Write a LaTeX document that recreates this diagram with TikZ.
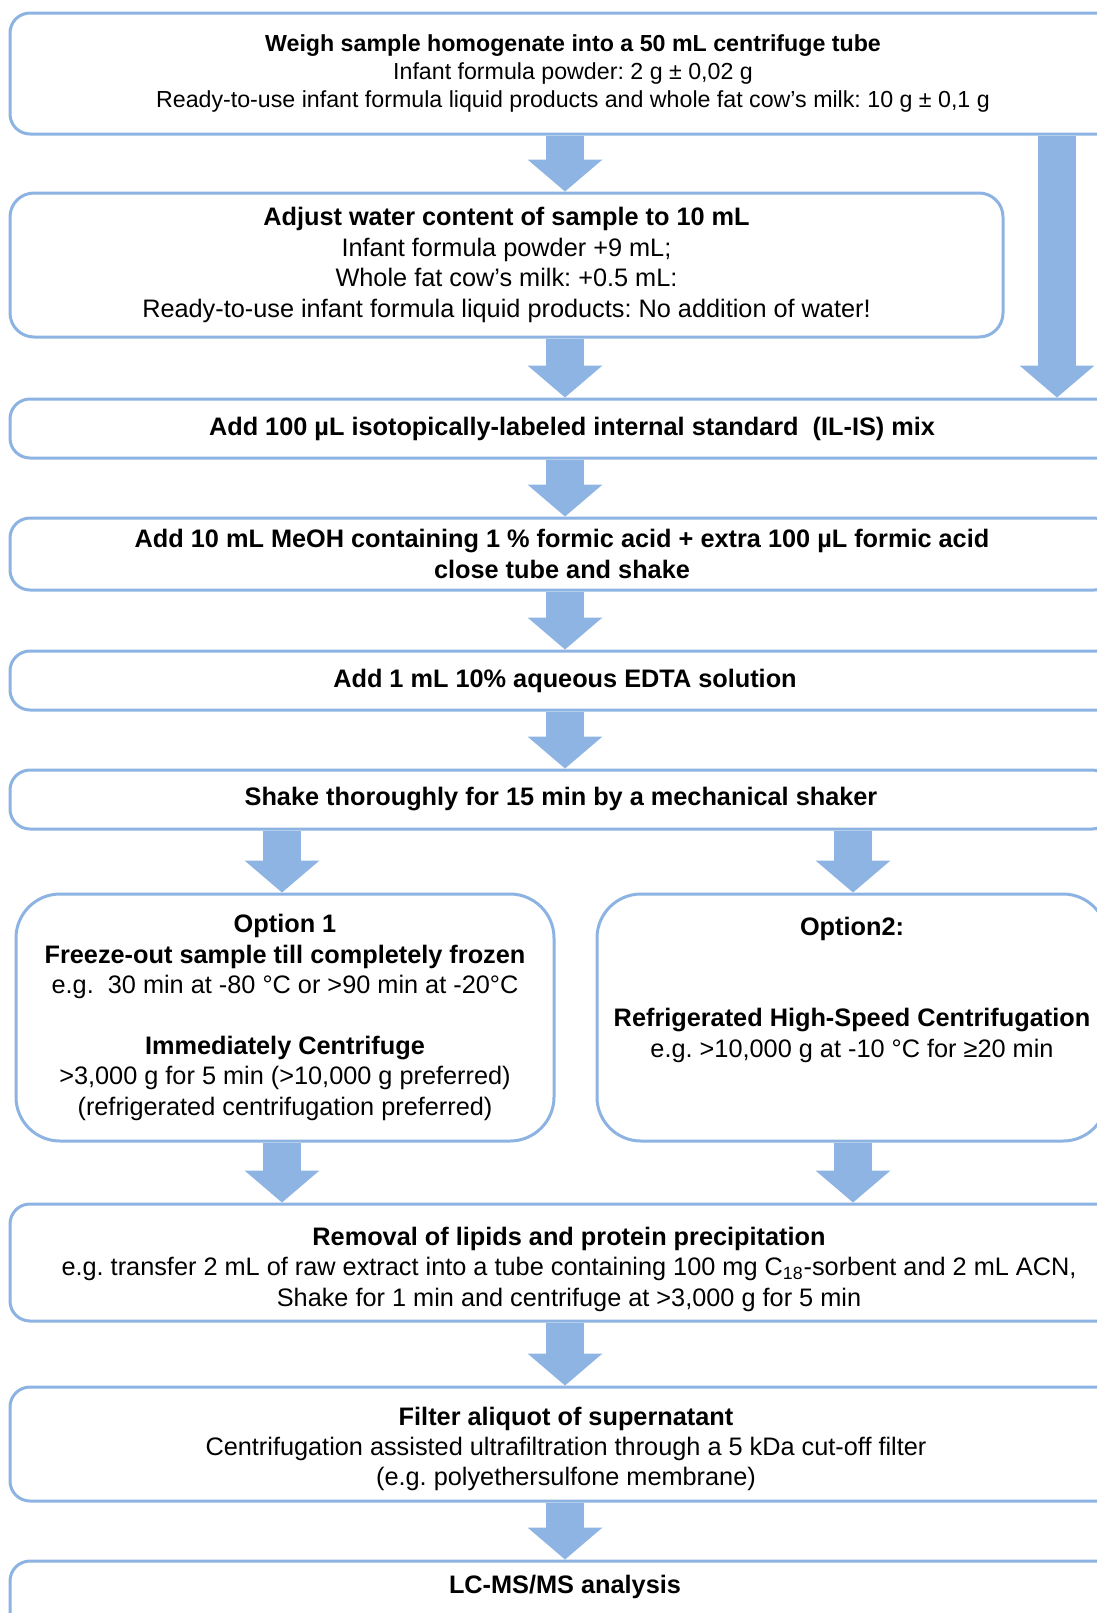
\documentclass[tikz,border=0pt]{standalone}
\usepackage{fontspec}
\setmainfont{Liberation Sans}
\usetikzlibrary{arrows.meta,backgrounds}
\definecolor{boxblue}{RGB}{141,179,226}
\definecolor{arrowblue}{RGB}{142,180,227}
\frenchspacing
\tikzset{
	stepbox/.style={draw=boxblue, line width=1.5pt, fill=white, rounded corners=10pt,
		align=center, inner sep=0pt, font=\fontsize{12.65}{15.2}\selectfont},
	optbox/.style={stepbox, rounded corners=22pt},
	fatarrow/.style={arrowblue, line width=19pt,
		-{Triangle[width=37.5pt,length=16pt,line width=0pt]}},
}

\begin{document}
\begin{tikzpicture}[x=0.5pt,y=-0.5pt]
	\useasboundingbox (0,0) rectangle (1097,1613);
	\node[stepbox, font=\fontsize{11.6}{14}\selectfont, minimum width=563pt, minimum height=60.5pt] (weigh) at (573,73.5)
		{\textbf{Weigh sample homogenate into a 50 mL centrifuge tube}\\
		Infant formula powder: 2 g ± 0,02 g\\
		Ready-to-use infant formula liquid products and whole fat cow’s milk: 10 g ± 0,1 g};
	\node[stepbox, rounded corners=12pt, minimum width=496.5pt, minimum height=72pt] (water) at (506.5,265)
		{\textbf{Adjust water content of sample to 10 mL}\\
		Infant formula powder +9 mL;\\
		Whole fat cow’s milk: +0.5 mL:\\
		Ready-to-use infant formula liquid products: No addition of water!};
	\node[stepbox, minimum width=562pt, minimum height=29.5pt] (ilis) at (572,428.5)
		{\textbf{Add 100 µL isotopically-labeled internal standard \ (IL-IS) mix}};
	\node[stepbox, minimum width=552pt, minimum height=36pt] (meoh) at (562,554)
		{\textbf{Add 10 mL MeOH containing 1 \% formic acid + extra 100 µL formic acid}\\
		\textbf{close tube and shake}};
	\node[stepbox, minimum width=555pt, minimum height=29.5pt] (edta) at (565,680.5)
		{\textbf{Add 1 mL 10\% aqueous EDTA solution}};
	\node[stepbox, minimum width=551pt, minimum height=29.5pt] (shake) at (561,799.5)
		{\textbf{Shake thoroughly for 15 min by a mechanical shaker}};
	% the two options
	\node[optbox, minimum width=269pt, minimum height=123.5pt] (opta) at (285,1017.5)
		{\textbf{Option 1}\\
		\textbf{Freeze-out sample till completely frozen}\\
		e.g. \ 30 min at -80 °C or >90 min at -20°C\\
		~\\
		\textbf{Immediately Centrifuge}\\
		>3,000 g for 5 min (>10,000 g preferred)\\
		(refrigerated centrifugation preferred)};
	\node[optbox, minimum width=255pt, minimum height=123.5pt] (optb) at (852,1017.5)
		{\textbf{Option2:}\\
		~\\
		~\\
		\textbf{Refrigerated High-Speed Centrifugation}\\
		e.g. >10,000 g at -10 °C for ≥20 min\\
		~\\
		~};
	\node[stepbox, minimum width=559pt, minimum height=58.5pt] (lipid) at (569,1262.5)
		{\rule{0pt}{16pt}\textbf{Removal of lipids and protein precipitation}\\
		e.g. transfer 2 mL of raw extract into a tube containing 100 mg C\textsubscript{18}-sorbent and 2 mL ACN,\\
		Shake for 1 min and centrifuge at >3,000 g for 5 min};
	\node[stepbox, minimum width=556pt, minimum height=57pt] (filt) at (566,1444)
		{\rule{0pt}{14.2pt}\textbf{Filter aliquot of supernatant}\\
		Centrifugation assisted ultrafiltration through a 5 kDa cut-off filter\\
		(e.g. polyethersulfone membrane)};
	\node[stepbox, minimum width=555pt, minimum height=39pt] (lcms) at (565,1600)
		{\textbf{LC-MS/MS analysis}\\
		~};

	\coordinate (mid) at (565,0);
	\coordinate (lft) at (282,0);
	\coordinate (rgt) at (853,0);
	\coordinate (side) at (1057,0);

	\begin{scope}[on background layer]
		\draw[fatarrow] (weigh.south -| mid) -- (water.north -| mid);
		\draw[fatarrow] (weigh.south -| side) -- (ilis.north -| side);
		\draw[fatarrow] (water.south -| mid) -- (ilis.north -| mid);
		\draw[fatarrow] (ilis.south -| mid) -- (meoh.north -| mid);
		\draw[fatarrow] (meoh.south -| mid) -- (edta.north -| mid);
		\draw[fatarrow] (edta.south -| mid) -- (shake.north -| mid);
		\draw[fatarrow] (shake.south -| lft) -- (opta.north -| lft);
		\draw[fatarrow] (shake.south -| rgt) -- (optb.north -| rgt);
		\draw[fatarrow] (opta.south -| lft) -- (lipid.north -| lft);
		\draw[fatarrow] (optb.south -| rgt) -- (lipid.north -| rgt);
		\draw[fatarrow] (lipid.south -| mid) -- (filt.north -| mid);
		\draw[fatarrow] (filt.south -| mid) -- (lcms.north -| mid);
	\end{scope}
\end{tikzpicture}
\end{document}
